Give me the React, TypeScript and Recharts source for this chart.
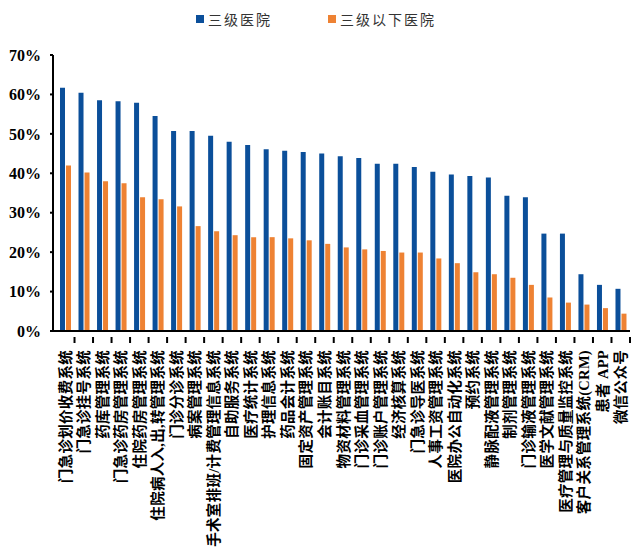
import React from 'react';
import { BarChart, Bar, XAxis, YAxis, Legend } from 'recharts';

const categories = [
  '门急诊划价收费系统',
  '门急诊挂号系统',
  '药库管理系统',
  '门急诊药房管理系统',
  '住院药房管理系统',
  '住院病人入,出,转管理系统',
  '门诊分诊系统',
  '病案管理系统',
  '手术室排班/计费管理信息系统',
  '自助服务系统',
  '医疗统计系统',
  '护理信息系统',
  '药品会计系统',
  '固定资产管理系统',
  '会计账目系统',
  '物资材料管理系统',
  '门诊采血管理系统',
  '门诊账户管理系统',
  '经济核算系统',
  '门急诊导医系统',
  '人事工资管理系统',
  '医院办公自动化系统',
  '预约系统',
  '静脉配液管理系统',
  '制剂管理系统',
  '门诊输液管理系统',
  '医学文献管理系统',
  '医疗管理与质量监控系统',
  '客户关系管理系统(CRM)',
  '患者 APP',
  '微信公众号',
];

const tier3 = [
  61.7, 60.4, 58.5, 58.3, 57.9, 54.5, 50.7, 50.7, 49.5, 48.0, 47.2, 46.1, 45.7, 45.4, 45.0, 44.3,
  43.9, 42.4, 42.4, 41.6, 40.4, 39.7, 39.3, 38.9, 34.3, 33.9, 24.7, 24.7, 14.4, 11.7, 10.7,
];

const belowTier3 = [
  42.0, 40.2, 38.0, 37.5, 33.9, 33.4, 31.6, 26.6, 25.3, 24.3, 23.8, 23.8, 23.5, 23.0, 22.1, 21.2,
  20.7, 20.3, 19.9, 19.9, 18.4, 17.2, 14.9, 14.4, 13.5, 11.7, 8.5, 7.2, 6.7, 5.8, 4.4,
];

const yTicks = [0, 10, 20, 30, 40, 50, 60, 70];

const seriesNames = ['三级医院', '三级以下医院'];

const BLUE = '#0B4F9A';
const ORANGE = '#EE8233';

const data = categories.map((name, i) => ({
  name,
  tier3: tier3[i],
  below: belowTier3[i],
}));

const CategoryTick = (props: any) => {
  const { x, y, payload } = props;
  const half = payload.offset ?? 9.3;
  return (
    <g>
      <line x1={x + half} y1={y - 2} x2={x + half} y2={y + 4} stroke="#000" strokeWidth={2} />
      <g transform={`translate(${x},${y + 11}) rotate(-90)`}>
        <text
          x={0}
          y={0}
          dy="0.38em"
          textAnchor="end"
          fontSize={14.5}
          fontWeight="bold"
          letterSpacing={0.3}
          fill="#000"
          fontFamily='"Liberation Serif", "Noto Sans CJK SC", serif'
        >
          {payload.value}
        </text>
      </g>
    </g>
  );
};

const LegendBox = () => (
  <div
    style={{
      display: 'flex',
      justifyContent: 'center',
      gap: 56,
      fontFamily: '"Noto Sans CJK SC", sans-serif',
      fontSize: 14,
      letterSpacing: 2,
      color: '#333',
      lineHeight: '20px',
    }}
  >
    {seriesNames.map((s, i) => (
      <div key={s} style={{ display: 'flex', alignItems: 'center' }}>
        <span
          style={{
            display: 'inline-block',
            width: 8,
            height: 8,
            background: i === 0 ? BLUE : ORANGE,
            marginRight: 4,
          }}
        />
        <span>{s}</span>
      </div>
    ))}
  </div>
);

export default function App() {
  return (
    <div style={{ position: 'absolute', left: 0, top: 0, width: 632, height: 554, background: '#fff' }}>
      <BarChart
        width={632}
        height={554}
        data={data}
        margin={{ top: 35, right: 2, left: 0, bottom: 0 }}
        barSize={5}
        barGap={1}
      >
        <Legend
          verticalAlign="top"
          height={20}
          content={<LegendBox />}
          wrapperStyle={{ top: 9, left: 0, width: 632 }}
        />
        <XAxis
          dataKey="name"
          interval={0}
          height={223}
          padding={{ left: 3, right: 0 }}
          axisLine={{ stroke: '#000', strokeWidth: 2 }}
          tickLine={false}
          tick={<CategoryTick />}
        />
        <YAxis
          width={53}
          domain={[0, 70]}
          ticks={yTicks}
          tickFormatter={(v: number) => `${v}%`}
          axisLine={{ stroke: '#000', strokeWidth: 2 }}
          tickLine={{ stroke: '#000', strokeWidth: 2 }}
          tickSize={3}
          tickMargin={9}
          tick={{
            fill: '#000',
            fontSize: 16,
            fontWeight: 'bold',
            fontFamily: '"Liberation Serif", serif',
          }}
        />
        <Bar dataKey="tier3" name={seriesNames[0]} fill={BLUE} isAnimationActive={false} />
        <Bar dataKey="below" name={seriesNames[1]} fill={ORANGE} isAnimationActive={false} />
      </BarChart>
    </div>
  );
}
